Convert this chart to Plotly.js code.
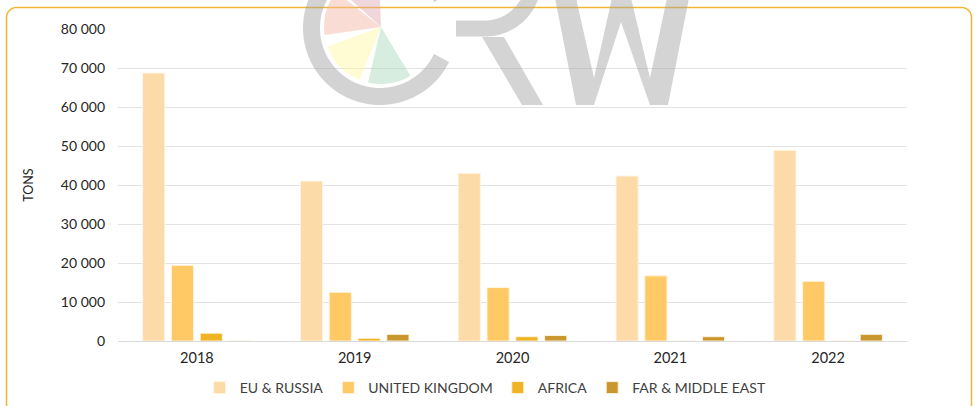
<!DOCTYPE html>
<html>
<head>
<meta charset="utf-8">
<script src="https://cdn.plot.ly/plotly-3.0.1.min.js"></script>
<style>
  html, body { margin: 0; padding: 0; background: #ffffff; }
  #chart { width: 978px; height: 406px; }
</style>
</head>
<body>
<div id="chart"></div>
<script>
// ---- Data ----
const years = ["2018", "2019", "2020", "2021", "2022"];
const euRussia = [68700, 41000, 43000, 42300, 48900];
const unitedKingdom = [19400, 12500, 13700, 16700, 15300];
const africa = [2000, 700, 1100, 0, 0];
const farMiddleEast = [0, 1700, 1400, 1100, 1700];
const seriesNames = ["EU & RUSSIA", "UNITED KINGDOM", "AFRICA", "FAR & MIDDLE EAST"];
const seriesColors = ["#FDDBA9", "#FFC966", "#F0B323", "#C9972E"];
const yTicks = [0, 10000, 20000, 30000, 40000, 50000, 60000, 70000, 80000];

// ---- Layout geometry ----
const W = 978, H = 406;
const M = { l: 118, r: 71, t: 29, b: 65, autoexpand: false };
const PW = W - M.l - M.r, PH = H - M.t - M.b;
const px = x => (x - M.l) / PW;
const py = y => (H - M.b - y) / PH;
const pt = (x, y) => px(x).toFixed(5) + "," + py(y).toFixed(5);
function poly(points) {
  return "M" + points.map(p => pt(p[0], p[1])).join("L") + "Z";
}
function arcPts(cx, cy, r, a0, a1, n) {
  const pts = [];
  for (let i = 0; i <= n; i++) {
    const a = (a0 + (a1 - a0) * i / n) * Math.PI / 180;
    pts.push([cx + r * Math.cos(a), cy + r * Math.sin(a)]);
  }
  return pts;
}
function openPath(points) {
  return "M" + points.map(p => pt(p[0], p[1])).join("L");
}
function wedge(cx, cy, r, a0, a1) {
  return poly([[cx, cy]].concat(arcPts(cx, cy, r, a0, a1, 24)));
}
function roundRect(x0, y0, x1, y1, rad) {
  const pts = [];
  pts.push(...arcPts(x0 + rad, y0 + rad, rad, 180, 270, 10));
  pts.push(...arcPts(x1 - rad, y0 + rad, rad, 270, 360, 10));
  pts.push(...arcPts(x1 - rad, y1 - rad, rad, 0, 90, 10));
  pts.push(...arcPts(x0 + rad, y1 - rad, rad, 90, 180, 10));
  return poly(pts);
}

const logoGray = "#a0a0a0";
const shapes = [
  // frame
  { type: "path", xref: "paper", yref: "paper", layer: "below",
    path: roundRect(6.5, 7.5, 971.5, 430, 10),
    line: { color: "#F2B632", width: 1.5 }, fillcolor: "rgba(0,0,0,0)" },
  // watermark: pie wedges
  { type: "path", xref: "paper", yref: "paper", layer: "above", opacity: 0.45,
    path: wedge(381, 27, 57, 172, 218), fillcolor: "#F1B3A1", line: { width: 0 } },
  { type: "path", xref: "paper", yref: "paper", layer: "above", opacity: 0.45,
    path: wedge(381, 27, 57, 222, 268), fillcolor: "#DDA7B1", line: { width: 0 } },
  { type: "path", xref: "paper", yref: "paper", layer: "above", opacity: 0.45,
    path: wedge(381, 27, 57, 112, 160), fillcolor: "#FFF79D", line: { width: 0 } },
  { type: "path", xref: "paper", yref: "paper", layer: "above", opacity: 0.45,
    path: wedge(381, 27, 57, 59, 103), fillcolor: "#A7D7B7", line: { width: 0 } },
  // watermark: C ring
  { type: "path", xref: "paper", yref: "paper", layer: "above", opacity: 0.45,
    path: openPath(arcPts(380, 28, 68.5, 26, 334, 80)),
    line: { color: logoGray, width: 17 } },
  // watermark: R bar + bowl
  { type: "path", xref: "paper", yref: "paper", layer: "above", opacity: 0.45,
    path: openPath([[456, 28.5]].concat(arcPts(485, -20, 48.5, 90, -20, 40))),
    line: { color: logoGray, width: 16 } },
  // watermark: R leg
  { type: "path", xref: "paper", yref: "paper", layer: "above", opacity: 0.45,
    path: poly([[482, 37], [504, 37], [543, 105], [522, 105]]),
    fillcolor: logoGray, line: { width: 0 } },
  // watermark: W
  { type: "path", xref: "paper", yref: "paper", layer: "above", opacity: 0.45,
    path: poly([[555, -2], [576, -2], [594, 78], [612, -2], [631, -2], [650, 78],
                [667, -2], [689, -2], [668, 105], [650, 105], [621, 22], [594, 105], [576, 105]]),
    fillcolor: logoGray, line: { width: 0 } }
];

const seriesData = [euRussia, unitedKingdom, africa, farMiddleEast];
const traces = seriesData.map((vals, i) => ({
  type: "bar",
  name: seriesNames[i],
  x: years,
  y: vals,
  marker: { color: seriesColors[i], line: { color: "rgba(255,246,230,0.9)", width: 1 } },
  hoverinfo: "skip"
}));

const layout = {
  width: W, height: H,
  margin: M,
  paper_bgcolor: "#ffffff",
  plot_bgcolor: "#ffffff",
  separators: ". ",
  font: { family: "Lato, 'Open Sans', sans-serif", color: "#262626", size: 13 },
  barmode: "group",
  bargap: 0.27,
  bargroupgap: 0.23,
  showlegend: true,
  legend: {
    orientation: "h", x: 0.466, xanchor: "center", y: py(388), yanchor: "middle",
    font: { size: 14, color: "#404040" }, traceorder: "normal"
  },
  xaxis: {
    type: "category",
    showgrid: false,
    showline: true, linecolor: "#d9d9d9", linewidth: 1,
    ticks: "", tickfont: { size: 14.5, color: "#262626" },
    ticklabelstandoff: 4,
    fixedrange: true
  },
  yaxis: {
    range: [0, 80000],
    tickvals: yTicks,
    tickformat: ",d",
    showgrid: true, gridcolor: "#e3e3e3", gridwidth: 1,
    zeroline: false,
    ticks: "", tickfont: { size: 14, color: "#262626" },
    ticklabelstandoff: 12,
    title: { text: "TONS", font: { size: 12.5, color: "#262626" }, standoff: 24 },
    automargin: false,
    fixedrange: true
  },
  shapes: shapes
};

Plotly.newPlot("chart", traces, layout, { displayModeBar: false, staticPlot: true });
</script>
</body>
</html>
